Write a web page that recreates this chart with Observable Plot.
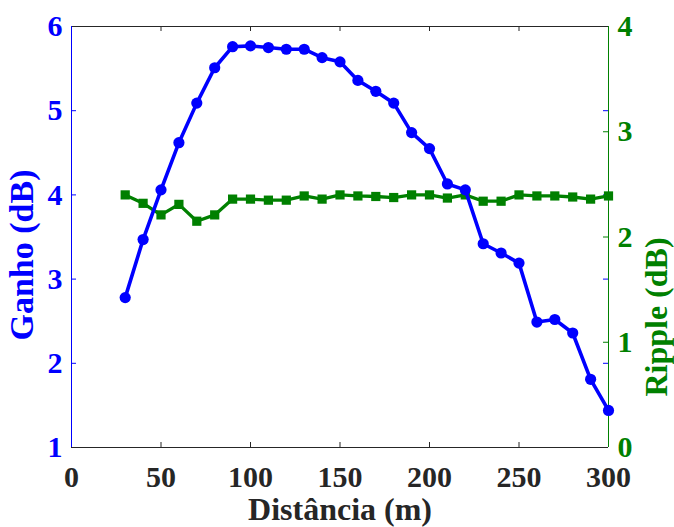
<!DOCTYPE html>
<html>
<head>
<meta charset="utf-8">
<script src="https://cdn.jsdelivr.net/npm/d3@7"></script>
<script src="https://cdn.jsdelivr.net/npm/@observablehq/plot@0.6"></script>
<style>
  html, body { margin: 0; padding: 0; background: #fff; }
  #chart svg { display: block; }
</style>
</head>
<body>
<div id="chart"></div>
<script>
// Data
const distancia = [30, 40, 50, 60, 70, 80, 90, 100, 110, 120, 130, 140, 150, 160, 170, 180, 190, 200, 210, 220, 230, 240, 250, 260, 270, 280, 290, 300];
const ganho = [2.78, 3.47, 4.06, 4.62, 5.09, 5.51, 5.76, 5.77, 5.75, 5.73, 5.73, 5.63, 5.58, 5.36, 5.23, 5.09, 4.74, 4.55, 4.13, 4.06, 3.42, 3.31, 3.19, 2.49, 2.52, 2.36, 1.81, 1.44];
const ripple = [2.40, 2.32, 2.21, 2.31, 2.15, 2.21, 2.36, 2.36, 2.35, 2.35, 2.39, 2.36, 2.40, 2.39, 2.385, 2.375, 2.40, 2.40, 2.37, 2.40, 2.34, 2.34, 2.40, 2.39, 2.39, 2.38, 2.36, 2.39];

const xTicks = [0, 50, 100, 150, 200, 250, 300];
const ganhoTicks = [1, 2, 3, 4, 5, 6];
const rippleTicks = [0, 1, 2, 3, 4];

const xDomain = [0, 300];
const ganhoDomain = [1, 6];
const rippleDomain = [0, 4];

const BLUE = "#0000ff";
const GREEN = "#008000";
const DARK = "#262626";

const W = 674, H = 527;
const mL = 71, mR = 66, mT = 26, mB = 80;
const plotW = W - mL - mR, plotH = H - mT - mB;
const TICK = 5;

// map ripple values onto the left (ganho) scale
const r2g = d3.scaleLinear().domain(rippleDomain).range(ganhoDomain);

const gainData = distancia.map((x, i) => ({x, y: ganho[i]}));
const rippleData = distancia.map((x, i) => ({x, y: r2g(ripple[i])}));

const innerX = xTicks.filter(d => d > xDomain[0] && d < xDomain[1]);
const innerG = ganhoTicks.filter(d => d > ganhoDomain[0] && d < ganhoDomain[1]);
const innerR = rippleTicks.filter(d => d > rippleDomain[0] && d < rippleDomain[1]);

const fmt = d3.format("d");

const chart = Plot.plot({
  width: W,
  height: H,
  marginLeft: mL,
  marginRight: mR,
  marginTop: mT,
  marginBottom: mB,
  style: {fontFamily: "'Liberation Serif', 'Times New Roman', serif", fontWeight: "bold", background: "#fff"},
  x: {domain: xDomain},
  y: {domain: ganhoDomain},
  marks: [
    // frame lines
    Plot.ruleY([ganhoDomain[0], ganhoDomain[1]], {stroke: DARK, strokeWidth: 1}),
    Plot.ruleX([xDomain[0]], {stroke: BLUE, strokeWidth: 1}),
    Plot.ruleX([xDomain[1]], {stroke: GREEN, strokeWidth: 1}),
    // inward ticks: bottom & top
    Plot.tickX(innerX, {x: d => d, stroke: DARK, insetTop: plotH - TICK}),
    Plot.tickX(innerX, {x: d => d, stroke: DARK, insetBottom: plotH - TICK}),
    // left ticks (blue) and mirrored on right
    Plot.tickY(innerG, {y: d => d, stroke: BLUE, insetRight: plotW - TICK}),
    Plot.tickY(innerG, {y: d => d, stroke: BLUE, insetLeft: plotW - TICK}),
    // right ticks (green)
    Plot.tickY(innerR, {y: d => r2g(d), stroke: GREEN, insetLeft: plotW - TICK}),
    // tick labels
    Plot.axisX(xTicks, {anchor: "bottom", tickSize: 0, tickPadding: 18, fontSize: 30, color: DARK, label: null, tickFormat: fmt}),
    Plot.axisY(ganhoTicks, {anchor: "left", tickSize: 0, tickPadding: 9, fontSize: 30, color: BLUE, label: null, tickFormat: fmt}),
    Plot.axisY(rippleTicks.map(r2g), {anchor: "right", tickSize: 0, tickPadding: 9, fontSize: 30, color: GREEN, label: null, tickFormat: d => fmt(Math.round(r2g.invert(d)))}),
    // axis labels
    Plot.text(["Distância (m)"], {frameAnchor: "bottom", textAnchor: "middle", lineAnchor: "top", dy: 50, fontSize: 32, fill: DARK, fontWeight: "bold"}),
    Plot.text(["Ganho (dB)"], {frameAnchor: "left", textAnchor: "middle", rotate: -90, dx: -49, dy: 18, fontSize: 34, fill: BLUE, fontWeight: "bold"}),
    Plot.text(["Ripple (dB)"], {frameAnchor: "right", textAnchor: "middle", rotate: -90, dx: 48, dy: 80, fontSize: 32, fill: GREEN, fontWeight: "bold"}),
    // green series (ripple)
    Plot.line(rippleData, {x: "x", y: "y", stroke: GREEN, strokeWidth: 3.3}),
    Plot.dot(rippleData, {x: "x", y: "y", symbol: "square", r: 5.2, fill: GREEN, stroke: "none"}),
    // blue series (ganho)
    Plot.line(gainData, {x: "x", y: "y", stroke: BLUE, strokeWidth: 3.6}),
    Plot.dot(gainData, {x: "x", y: "y", r: 5.6, fill: BLUE, stroke: "none"})
  ]
});

document.getElementById("chart").appendChild(chart);
</script>
</body>
</html>
